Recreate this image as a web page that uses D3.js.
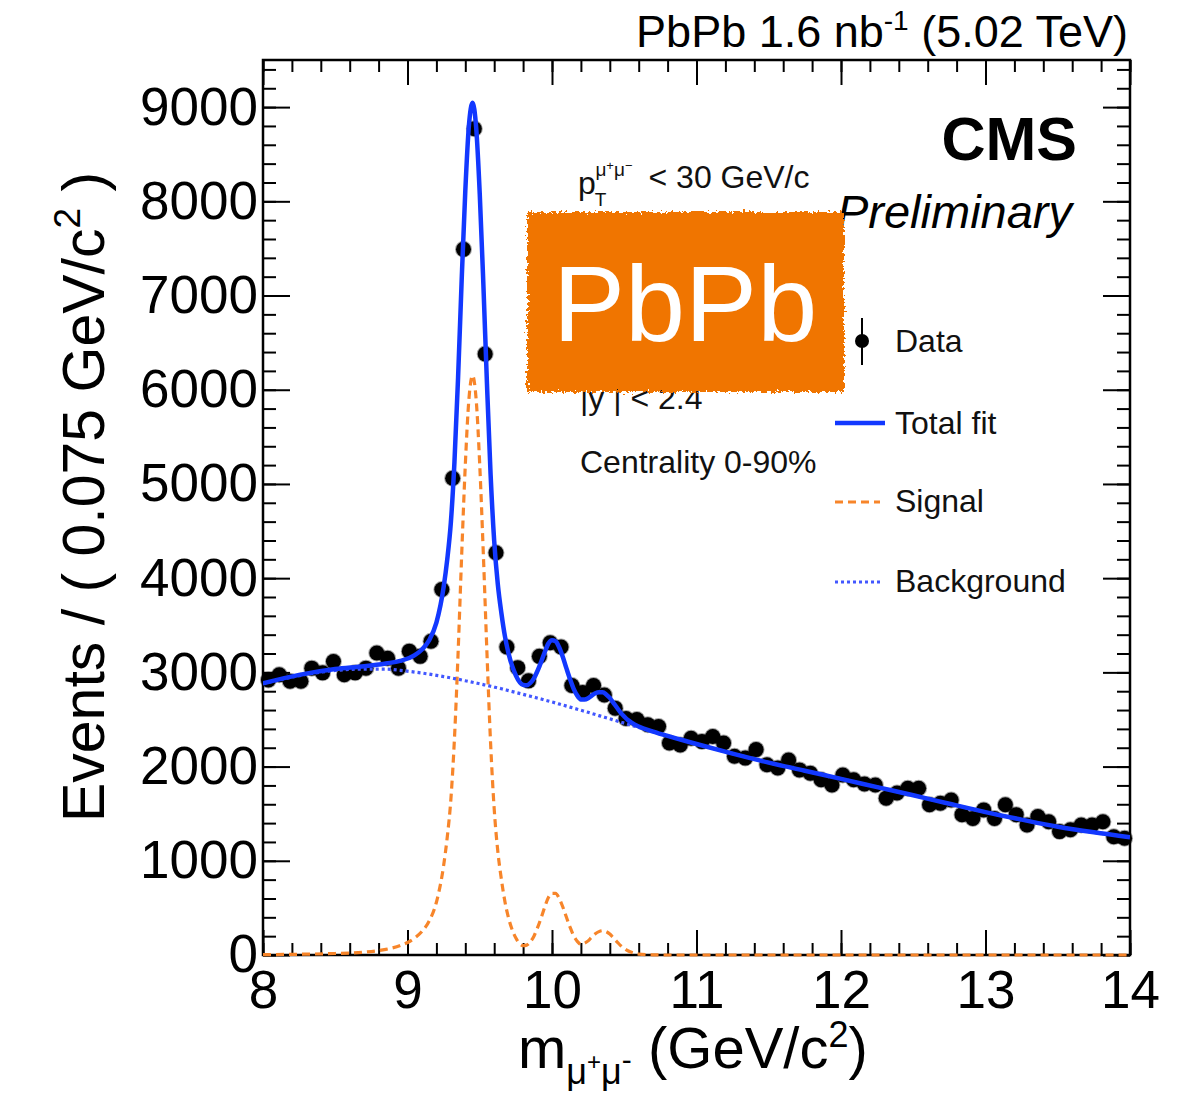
<!DOCTYPE html>
<html>
<head>
<meta charset="utf-8">
<script src="https://cdn.jsdelivr.net/npm/d3@7"></script>
<style>
  body { margin: 0; background: #fff; }
  svg { display: block; font-family: "Liberation Sans", Arial, Helvetica, sans-serif; }
</style>
</head>
<body>
<svg id="chart" width="1193" height="1108"></svg>
<script>
// Dimuon invariant-mass histogram: 80 bins of 0.075 GeV/c^2 from 8 to 14
const binStart = 8.0;
const binWidth = 0.075;
const counts = [
  2920, 2975, 2905, 2905, 3045, 2995, 3115, 2975, 2995, 3045,
  3205, 3150, 3045, 3225, 3170, 3330, 3880, 5060, 7490, 8770,
  6380, 4270, 3270, 3050, 2910, 3170, 3315, 3270, 2860, 2785,
  2860, 2760, 2620, 2510, 2500, 2445, 2425, 2250, 2230, 2300,
  2265, 2320, 2250, 2110, 2090, 2180, 2020, 1985, 2070, 1965,
  1930, 1860, 1805, 1910, 1860, 1815, 1805, 1665, 1720, 1770,
  1770, 1595, 1610, 1645, 1490, 1450, 1540, 1450, 1595, 1490,
  1380, 1470, 1415, 1310, 1330, 1380, 1380, 1415, 1255, 1240
];

// Fit components sampled along the mass axis
const fitMass = [
  8.0, 8.25, 8.5, 8.7, 8.85, 8.95, 9.05, 9.1, 9.15, 9.2,
  9.25, 9.275, 9.3, 9.325, 9.35, 9.375, 9.4, 9.425, 9.45, 9.475,
  9.5, 9.525, 9.55, 9.575, 9.6, 9.625, 9.65, 9.675, 9.7, 9.75,
  9.8, 9.825, 9.85, 9.875, 9.9, 9.925, 9.95, 9.975, 10.0, 10.025,
  10.05, 10.075, 10.1, 10.125, 10.15, 10.175, 10.2, 10.225, 10.25, 10.275,
  10.3, 10.325, 10.35, 10.375, 10.4, 10.425, 10.45, 10.475, 10.5, 10.525,
  10.55, 10.6, 10.7, 10.8, 11.0, 11.25, 11.5, 11.75, 12.0, 12.25,
  12.5, 12.75, 13.0, 13.25, 13.5, 13.75, 14.0
];
const signalFit = [
  3, 8, 16, 30, 60, 100, 180, 250, 360, 560,
  950, 1250, 1650, 2300, 3200, 4250, 5200, 5900, 6150, 5900,
  5200, 4250, 3200, 2250, 1550, 1100, 800, 560, 390, 180,
  100, 105, 140, 200, 290, 395, 510, 610, 655, 655,
  600, 510, 400, 295, 205, 145, 115, 125, 150, 190,
  225, 248, 258, 248, 222, 182, 140, 100, 70, 45,
  28, 10, 2, 0, 0, 0, 0, 0, 0, 0,
  0, 0, 0, 0, 0, 0, 0
];
const backgroundFit = [
  2880, 2965, 3020, 3035, 3035, 3022, 3003, 2993, 2981, 2968,
  2955, 2948, 2941, 2934, 2927, 2919, 2911, 2903, 2895, 2887,
  2879, 2870, 2862, 2853, 2844, 2835, 2826, 2816, 2806, 2787,
  2767, 2757, 2747, 2737, 2727, 2717, 2706, 2696, 2686, 2675,
  2664, 2653, 2642, 2631, 2620, 2609, 2598, 2587, 2576, 2564,
  2553, 2541, 2530, 2518, 2507, 2495, 2484, 2472, 2461, 2449,
  2438, 2415, 2370, 2325, 2240, 2138, 2042, 1955, 1870, 1782,
  1695, 1605, 1517, 1437, 1362, 1302, 1250
];

const xTicks = [8, 9, 10, 11, 12, 13, 14];
const yTicks = [0, 1000, 2000, 3000, 4000, 5000, 6000, 7000, 8000, 9000];
const legendLabels = ["Data", "Total fit", "Signal", "Background"];

// ---- layout ----
const L = 263, R = 1130, T = 60, B = 955;
const FIT_BLUE = "#1238ff", SIG_ORANGE = "#f7852a", BKG_BLUE = "#4257ff";

const svg = d3.select("#chart");
const x = d3.scaleLinear().domain([8, 14]).range([L, R]);
const y = d3.scaleLinear().domain([0, 9500]).range([B, T]);

const defs = svg.append("defs");
defs.append("clipPath").attr("id", "plotClip")
  .append("rect").attr("x", L).attr("y", T).attr("width", R - L).attr("height", B - T + 4);

// ---- axes (ticks drawn inward on all four sides) ----
function styleAxis(g) {
  g.select(".domain").remove();
  g.selectAll(".tick line").attr("stroke", "#000").attr("stroke-width", 2);
}
const xMinor = d3.range(0, 31).map(i => 8 + i * 0.2);
const yMinor = d3.range(0, 48).map(i => i * 200);

svg.append("g").attr("transform", `translate(0,${B})`)
  .call(d3.axisBottom(x).tickValues(xMinor).tickSize(-12).tickFormat("")).call(styleAxis);
svg.append("g").attr("transform", `translate(0,${T})`)
  .call(d3.axisTop(x).tickValues(xMinor).tickSize(-12).tickFormat("")).call(styleAxis);
svg.append("g").attr("transform", `translate(${L},0)`)
  .call(d3.axisLeft(y).tickValues(yMinor).tickSize(-13).tickFormat("")).call(styleAxis);
svg.append("g").attr("transform", `translate(${R},0)`)
  .call(d3.axisRight(y).tickValues(yMinor).tickSize(-13).tickFormat("")).call(styleAxis);

const gx = svg.append("g").attr("transform", `translate(0,${B})`)
  .call(d3.axisBottom(x).tickValues(xTicks).tickSize(-25).tickPadding(15).tickFormat(d3.format("d")))
  .call(styleAxis);
gx.attr("font-family", null).attr("font-size", null);
gx.selectAll("text").attr("font-size", 53).attr("fill", "#000");

svg.append("g").attr("transform", `translate(0,${T})`)
  .call(d3.axisTop(x).tickValues(xTicks).tickSize(-25).tickFormat("")).call(styleAxis);

const gy = svg.append("g").attr("transform", `translate(${L},0)`)
  .call(d3.axisLeft(y).tickValues(yTicks).tickSize(-27).tickPadding(5).tickFormat(d3.format("d")))
  .call(styleAxis);
gy.attr("font-family", null).attr("font-size", null);
gy.selectAll("text").attr("font-size", 53).attr("fill", "#000");

svg.append("g").attr("transform", `translate(${R},0)`)
  .call(d3.axisRight(y).tickValues(yTicks).tickSize(-27).tickFormat("")).call(styleAxis);

svg.append("rect").attr("x", L).attr("y", T).attr("width", R - L).attr("height", B - T)
  .attr("fill", "none").attr("stroke", "#000").attr("stroke-width", 2.5);

// ---- data points ----
const bins = counts.map((c, i) => ({ m: binStart + binWidth * (i + 0.5), c }));
svg.append("g").selectAll("circle").data(bins).join("circle")
  .attr("cx", d => x(d.m)).attr("cy", d => y(d.c)).attr("r", 7.5)
  .attr("fill", "#000").attr("stroke", "rgba(0,0,0,0.35)").attr("stroke-width", 2);

// ---- fit curves ----
const fitPts = fitMass.map((m, i) => ({ m, s: signalFit[i], b: backgroundFit[i] }));
const curve = key => d3.line().x(d => x(d.m)).y(d => y(key(d))).curve(d3.curveMonotoneX);
const curves = svg.append("g").attr("clip-path", "url(#plotClip)").attr("fill", "none");
curves.append("path").datum(fitPts).attr("d", curve(d => d.s))
  .attr("stroke", SIG_ORANGE).attr("stroke-width", 3.2).attr("stroke-dasharray", "8,5");
curves.append("path").datum(fitPts).attr("d", curve(d => d.b))
  .attr("stroke", BKG_BLUE).attr("stroke-width", 3.2).attr("stroke-dasharray", "3,3");
curves.append("path").datum(fitPts).attr("d", curve(d => d.s + d.b))
  .attr("stroke", FIT_BLUE).attr("stroke-width", 4.5);

// ---- header ----
const hdr = svg.append("text").attr("x", 1128).attr("y", 47).attr("text-anchor", "end")
  .attr("font-size", 45).attr("fill", "#000");
hdr.append("tspan").text("PbPb 1.6 nb");
hdr.append("tspan").attr("font-size", 28).attr("dy", -17).text("-1");
hdr.append("tspan").attr("dy", 17).text(" (5.02 TeV)");

svg.append("text").attr("x", 1077).attr("y", 160).attr("text-anchor", "end")
  .attr("font-size", 61).attr("font-weight", "bold").text("CMS");
svg.append("text").attr("x", 1072).attr("y", 228).attr("text-anchor", "end")
  .attr("font-size", 47).attr("font-style", "italic").text("Preliminary");

// ---- kinematic selection text ----
const pt = svg.append("text").attr("x", 578).attr("y", 194).attr("font-size", 32).attr("fill", "#111");
pt.append("tspan").text("p");
pt.append("tspan").attr("font-size", 19).attr("dy", 12).attr("dx", -1).text("T");
pt.append("tspan").attr("font-size", 19).attr("dx", -11).attr("dy", -30).text("μ");
pt.append("tspan").attr("font-size", 13).attr("dy", -6).text("+");
pt.append("tspan").attr("font-size", 19).attr("dy", 6).text("μ");
pt.append("tspan").attr("font-size", 13).attr("dy", -6).text("−");
pt.append("tspan").attr("dy", 18).attr("dx", 16).text("< 30 GeV/c");

svg.append("text").attr("x", 580).attr("y", 409).attr("font-size", 32).attr("fill", "#111")
  .text("|y | < 2.4");
svg.append("text").attr("x", 580).attr("y", 473).attr("font-size", 32).attr("fill", "#111")
  .text("Centrality 0-90%");

// ---- legend ----
const lg = svg.append("g");
lg.append("line").attr("x1", 862).attr("x2", 862).attr("y1", 318).attr("y2", 365)
  .attr("stroke", "#000").attr("stroke-width", 2);
lg.append("circle").attr("cx", 862).attr("cy", 341).attr("r", 7).attr("fill", "#000");
lg.append("line").attr("x1", 835).attr("x2", 885).attr("y1", 423).attr("y2", 423)
  .attr("stroke", FIT_BLUE).attr("stroke-width", 4.5);
lg.append("line").attr("x1", 835).attr("x2", 880).attr("y1", 502).attr("y2", 502)
  .attr("stroke", SIG_ORANGE).attr("stroke-width", 3.2).attr("stroke-dasharray", "8,5");
lg.append("line").attr("x1", 835).attr("x2", 883).attr("y1", 582).attr("y2", 582)
  .attr("stroke", BKG_BLUE).attr("stroke-width", 3.2).attr("stroke-dasharray", "3,3");
const legendY = [352, 434, 512, 592];
lg.selectAll("text.lab").data(legendLabels).join("text").attr("class", "lab")
  .attr("x", 895).attr("y", (d, i) => legendY[i]).attr("font-size", 32).attr("fill", "#111")
  .text(d => d);

// ---- axis titles ----
const xt = svg.append("text").attr("x", 518).attr("y", 1068).attr("font-size", 58).attr("fill", "#000");
xt.append("tspan").text("m");
xt.append("tspan").attr("font-size", 36).attr("dy", 16).text("μ");
xt.append("tspan").attr("font-size", 24).attr("dy", -14).text("+");
xt.append("tspan").attr("font-size", 36).attr("dy", 14).text("μ");
xt.append("tspan").attr("font-size", 30).attr("dy", -14).text("-");
xt.append("tspan").attr("dy", -2).text(" (GeV/c");
xt.append("tspan").attr("font-size", 36).attr("dy", -21).text("2");
xt.append("tspan").attr("dy", 21).text(")");

const yt = svg.append("text").attr("transform", "translate(104,497) rotate(-90)")
  .attr("text-anchor", "middle").attr("font-size", 59).attr("fill", "#000");
yt.append("tspan").text("Events / ( 0.075 GeV/c");
yt.append("tspan").attr("font-size", 37).attr("dy", -24).text("2");
yt.append("tspan").attr("dy", 24).text(" )");

// ---- orange PbPb tag with a rough, torn edge ----
const filt = defs.append("filter").attr("id", "rough")
  .attr("x", "-5%").attr("y", "-8%").attr("width", "110%").attr("height", "116%");
filt.append("feTurbulence").attr("type", "fractalNoise").attr("baseFrequency", 0.35)
  .attr("numOctaves", 2).attr("seed", 4).attr("result", "noise");
filt.append("feDisplacementMap").attr("in", "SourceGraphic").attr("in2", "noise")
  .attr("scale", 9).attr("xChannelSelector", "R").attr("yChannelSelector", "G");
svg.append("rect").attr("x", 527).attr("y", 212).attr("width", 317).attr("height", 180)
  .attr("fill", "#f07400").attr("filter", "url(#rough)");
svg.append("text").attr("x", 553).attr("y", 341).attr("font-size", 108).attr("fill", "#fff")
  .text("PbPb");
</script>
</body>
</html>
